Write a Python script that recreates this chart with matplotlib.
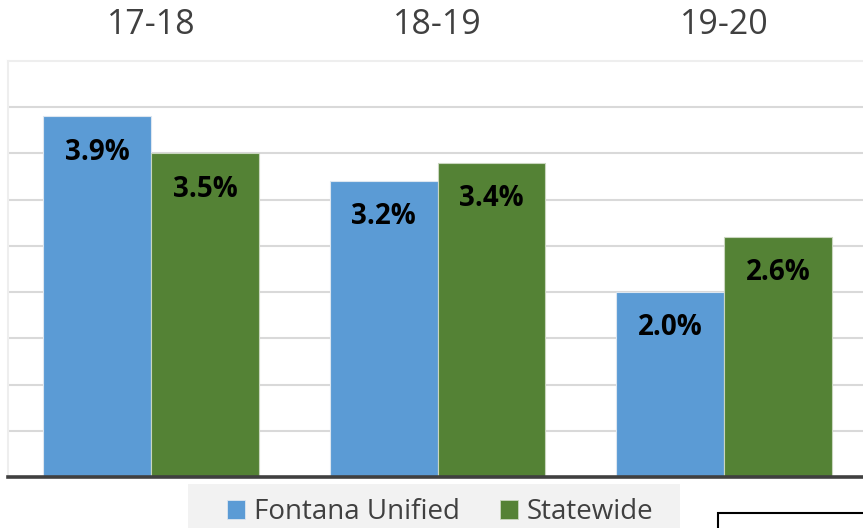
import matplotlib
matplotlib.use("Agg")
import matplotlib.pyplot as plt
from matplotlib.patches import Rectangle, Patch
import numpy as np

categories = ["17-18", "18-19", "19-20"]
fontana = [3.9, 3.2, 2.0]
statewide = [3.5, 3.4, 2.6]
series_names = ["Fontana Unified", "Statewide"]
labels_f = ["3.9%", "3.2%", "2.0%"]
labels_s = ["3.5%", "3.4%", "2.6%"]

BLUE = "#5B9BD5"
GREEN = "#548235"
W, H = 863, 528

plt.rcParams['font.family'] = ['Open Sans', 'DejaVu Sans']
fig = plt.figure(figsize=(W / 100, H / 100), dpi=100)
ax = fig.add_axes([8 / W, 51 / H, (867 - 8) / W, (477 - 61) / H])

x = np.arange(len(categories))
bw = 0.377
off = bw / 2
b1 = ax.bar(x - off, fontana, bw, color=BLUE, edgecolor="#dce6f0", linewidth=0.8, zorder=3)
b2 = ax.bar(x + off, statewide, bw, color=GREEN, edgecolor="#c9d6bf", linewidth=0.8, zorder=3)

for bars, labs in ((b1, labels_f), (b2, labels_s)):
    for r, lab in zip(bars, labs):
        ax.annotate(lab, (r.get_x() + r.get_width() / 2, r.get_height()),
                    xytext=(0, -31), textcoords="offset points",
                    ha="center", va="baseline", fontsize=20, fontweight="bold",
                    color="black", zorder=5)

ax.set_xlim(-0.5, len(categories) - 0.5)
ax.set_ylim(0, 4.5)
ax.set_yticks(np.arange(0.5, 4.5, 0.5))
ax.yaxis.grid(True, color="#d9d9d9", linewidth=1.5, zorder=0)
ax.tick_params(axis="y", left=False, labelleft=False)

ax.xaxis.tick_top()
ax.set_xticks(x)
ax.set_xticklabels(categories, fontsize=24.5, color="#404040")
ax.tick_params(axis="x", top=False, bottom=False, pad=10)

for s in ("top", "left", "right"):
    ax.spines[s].set_color("#eeeeee")
    ax.spines[s].set_linewidth(1.5)
ax.spines["right"].set_visible(False)
ax.spines["bottom"].set_color("#404040")
ax.spines["bottom"].set_linewidth(2.6)
ax.spines["bottom"].set_zorder(6)

# legend background
fig.patches.append(Rectangle((188 / W, -0.05), (680 - 188) / W, (528 - 484) / H + 0.05,
                             transform=fig.transFigure, facecolor="#f2f2f2",
                             edgecolor="none", zorder=0))
handles = [Patch(facecolor=BLUE, edgecolor="#dce6f0", linewidth=0.6),
           Patch(facecolor=GREEN, edgecolor="#c9d6bf", linewidth=0.6)]
leg = fig.legend(handles, series_names, loc="center left",
                 bbox_to_anchor=(227 / W, 1 - 512 / H), ncol=2, frameon=False,
                 fontsize=20, handlelength=0.65, handleheight=0.65,
                 handletextpad=0.32, columnspacing=1.44, borderpad=0,
                 borderaxespad=0, labelcolor="#404040")

# partial box at bottom right
fig.patches.append(Rectangle((718 / W, -0.05), 0.5, (528 - 513) / H + 0.05,
                             transform=fig.transFigure, facecolor="white",
                             edgecolor="black", linewidth=1.5, zorder=1))

fig.savefig("out.png", dpi=100)
